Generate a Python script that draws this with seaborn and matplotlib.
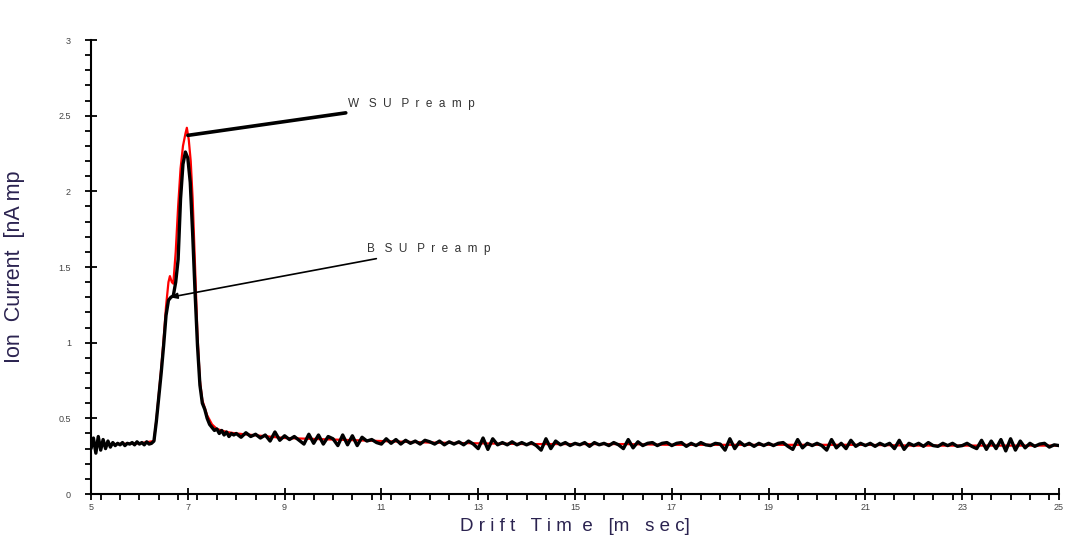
import numpy as np
import pandas as pd
import matplotlib
matplotlib.use("Agg")
import matplotlib.pyplot as plt
from matplotlib.ticker import MultipleLocator
import seaborn as sns

# ---- data -------------------------------------------------------------
# BSU preamp: fine sampling through the peak (0.05 ms), then 0.1 ms
bsu_peak_t0, bsu_peak_dt = 5.0, 0.05
bsu_peak_y = [
    0.30, 0.37, 0.27, 0.38, 0.29, 0.36, 0.30, 0.35, 0.31, 0.34,
    0.32, 0.335, 0.325, 0.34, 0.32, 0.335, 0.33, 0.34, 0.325, 0.345,
    0.33, 0.34, 0.325, 0.345, 0.33, 0.335, 0.35, 0.48, 0.64, 0.80,
    0.98, 1.18, 1.28, 1.30, 1.31, 1.40, 1.55, 1.95, 2.18, 2.26,
    2.22, 2.06, 1.72, 1.33, 0.98, 0.72, 0.60, 0.56, 0.50, 0.46,
    0.44, 0.42, 0.43, 0.40, 0.42, 0.39, 0.41, 0.38, 0.40, 0.39,
]
bsu_tail_t0, bsu_tail_dt = 8.0, 0.1
bsu_tail_y = [
    0.40, 0.375, 0.405, 0.38, 0.395, 0.37, 0.39, 0.35, 0.41, 0.355,
    0.385, 0.36, 0.38, 0.355, 0.33, 0.395, 0.335, 0.39, 0.33, 0.38,
    0.365, 0.32, 0.39, 0.325, 0.385, 0.32, 0.375, 0.35, 0.36, 0.34,
    0.33, 0.365, 0.335, 0.36, 0.33, 0.355, 0.335, 0.35, 0.33, 0.355,
    0.345, 0.33, 0.35, 0.325, 0.345, 0.33, 0.345, 0.325, 0.35, 0.33,
    0.30, 0.37, 0.295, 0.365, 0.325, 0.34, 0.325, 0.345, 0.325, 0.34,
    0.325, 0.34, 0.32, 0.29, 0.365, 0.30, 0.35, 0.325, 0.34, 0.32,
    0.335, 0.325, 0.34, 0.315, 0.34, 0.325, 0.335, 0.32, 0.34, 0.325,
    0.30, 0.36, 0.305, 0.345, 0.32, 0.335, 0.34, 0.32, 0.335, 0.34,
    0.32, 0.335, 0.34, 0.315, 0.335, 0.32, 0.34, 0.325, 0.32, 0.335,
    0.33, 0.29, 0.365, 0.30, 0.345, 0.32, 0.335, 0.315, 0.335, 0.32,
    0.335, 0.32, 0.335, 0.34, 0.315, 0.295, 0.36, 0.305, 0.335, 0.32,
    0.335, 0.32, 0.29, 0.36, 0.305, 0.335, 0.30, 0.355, 0.315, 0.335,
    0.32, 0.335, 0.315, 0.335, 0.32, 0.335, 0.30, 0.355, 0.295, 0.335,
    0.32, 0.335, 0.315, 0.34, 0.32, 0.315, 0.335, 0.32, 0.335, 0.315,
    0.32, 0.335, 0.315, 0.30, 0.355, 0.295, 0.35, 0.30, 0.36, 0.285,
    0.365, 0.29, 0.35, 0.305, 0.335, 0.315, 0.33, 0.335, 0.31, 0.325,
    0.32,
]

# WSU preamp
wsu_t = [5.0, 5.5, 6.0, 6.3, 6.35, 6.4, 6.45, 6.5, 6.55, 6.6, 6.63, 6.67,
         6.7, 6.75, 6.8, 6.85, 6.9, 6.95, 6.98, 7.02, 7.06, 7.1, 7.15, 7.2,
         7.25, 7.3, 7.4, 7.5, 7.6, 7.8, 8.0, 8.5, 9.0, 10.0, 11.0, 12.0,
         13.0, 14.0, 15.0, 16.0, 17.0, 18.0, 19.0, 20.0, 21.0, 22.0, 23.0,
         24.0, 25.0]
wsu_y = [0.33, 0.33, 0.335, 0.35, 0.49, 0.66, 0.83, 1.02, 1.24, 1.40, 1.44,
         1.40, 1.39, 1.60, 1.90, 2.15, 2.30, 2.38, 2.42, 2.34, 2.20, 1.95,
         1.50, 1.05, 0.75, 0.62, 0.52, 0.46, 0.43, 0.41, 0.40, 0.385, 0.37,
         0.36, 0.35, 0.34, 0.335, 0.33, 0.33, 0.33, 0.325, 0.325, 0.325,
         0.325, 0.325, 0.32, 0.32, 0.32, 0.32]

x_ticks = [5, 7, 9, 11, 13, 15, 17, 19, 21, 23, 25]
y_ticks = [0, 0.5, 1, 1.5, 2, 2.5, 3]
y_tick_labels = ["0", "0.5", "1", "1.5", "2", "2.5", "3"]

# ---- frames -------------------------------------------------------------
bsu_t = np.concatenate([
    bsu_peak_t0 + bsu_peak_dt * np.arange(len(bsu_peak_y)),
    bsu_tail_t0 + bsu_tail_dt * np.arange(len(bsu_tail_y)),
])
bsu = pd.DataFrame({"t": bsu_t, "i": bsu_peak_y + bsu_tail_y})
wsu = pd.DataFrame({"t": wsu_t, "i": wsu_y})

# ---- figure -----------------------------------------------------------
sns.set_style("ticks")
plt.rcParams["font.family"] = ["Liberation Sans", "DejaVu Sans"]

fig = plt.figure(figsize=(10.67, 5.35), dpi=100)
ax = fig.add_axes([0.0853, 0.0766, 0.9072, 0.8486])

sns.lineplot(data=wsu, x="t", y="i", color="#ff0000", lw=1.6,
             estimator=None, sort=False, ax=ax)
sns.lineplot(data=bsu, x="t", y="i", color="black", lw=2.4,
             estimator=None, sort=False, ax=ax)

ax.set_xlim(5, 25)
ax.set_ylim(0, 3)
ax.set_xticks(x_ticks)
ax.set_xticklabels([str(v) for v in x_ticks])
ax.set_yticks(y_ticks)
ax.set_yticklabels(y_tick_labels)
ax.xaxis.set_minor_locator(MultipleLocator(0.4))
ax.yaxis.set_minor_locator(MultipleLocator(0.1))

ax.tick_params(which="major", direction="inout", length=9, width=1.3,
               labelsize=6.5, colors="black", labelcolor="#444444")
ax.tick_params(axis="y", which="major", pad=10)
ax.tick_params(axis="x", which="major", pad=2)
ax.tick_params(which="minor", direction="out", length=4.5, width=1.3,
               colors="black")
for side in ("left", "bottom"):
    ax.spines[side].set_linewidth(1.5)
    ax.spines[side].set_color("black")
sns.despine(ax=ax)

ax.set_xlabel("D r i f t   T i m  e   [m   s e c]", fontsize=13.5,
              color="#2b2350", labelpad=4)
ax.set_ylabel("Ion  Current  [nA mp", fontsize=15.5, color="#2b2350")
ax.yaxis.set_label_coords(-0.068, 0.5)

# Callouts
ax.annotate("W   S  U   P  r  e  a  m  p", xy=(7.0, 2.37), xytext=(10.3, 2.58),
            fontsize=8.5, color="#333333", va="center", ha="left",
            arrowprops=dict(arrowstyle="-", lw=2.6, color="black",
                            shrinkA=0, shrinkB=0))
ax.annotate("B   S  U   P  r  e  a  m  p", xy=(6.63, 1.30), xytext=(10.7, 1.62),
            fontsize=8.5, color="#333333", va="center", ha="left",
            arrowprops=dict(arrowstyle="-|>,head_length=0.5,head_width=0.2",
                            lw=1.2, color="black", shrinkA=2, shrinkB=0))

fig.savefig("out.png", dpi=100, facecolor="white")
